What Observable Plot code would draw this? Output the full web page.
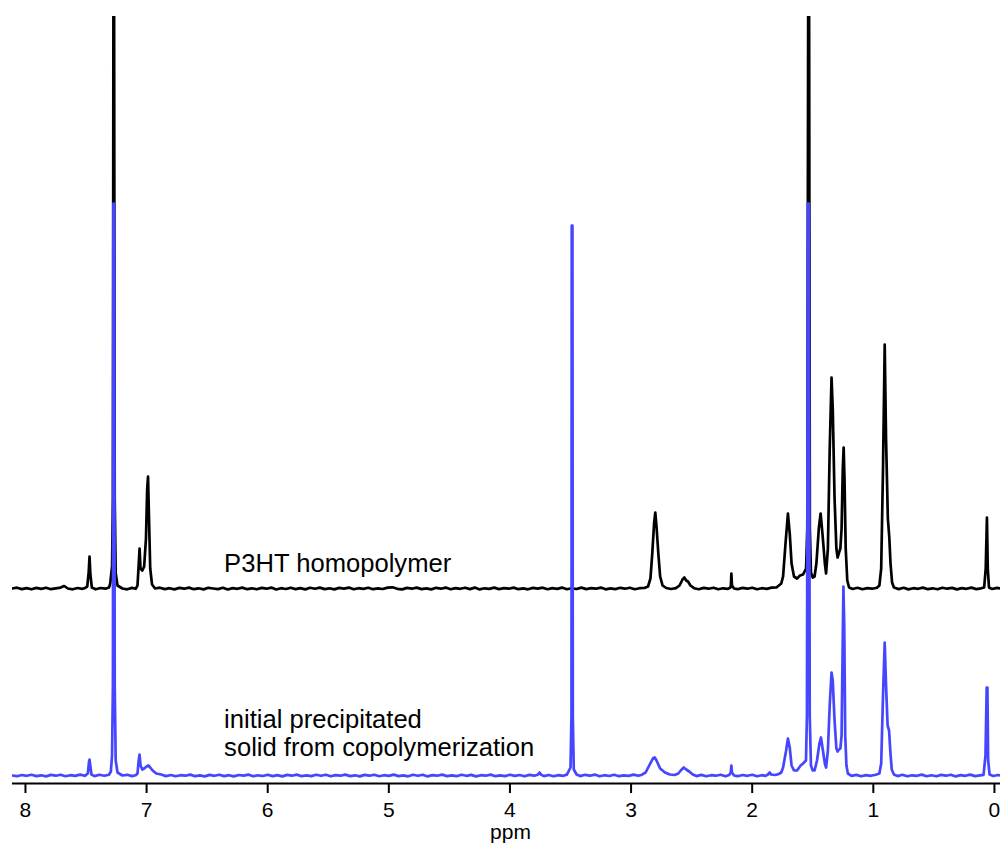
<!DOCTYPE html>
<html><head><meta charset="utf-8">
<script src="https://cdn.jsdelivr.net/npm/d3@7"></script>
<script src="https://cdn.jsdelivr.net/npm/@observablehq/plot@0.6"></script>
<style>body{margin:0;background:#fff}</style>
</head><body><div id="chart"></div>
<script>
// x ticks (ppm)
const xTicks = [8, 7, 6, 5, 4, 3, 2, 1, 0];
// labels
const seriesLabels = ["P3HT homopolymer", "initial precipitated", "solid from copolymerization"];
// baselines (intensity offsets, arbitrary units)
const BLACK_BASE = 195;
const BLUE_BASE = 8;

// P3HT homopolymer trace: [ppm, intensity above its baseline]
const blackTrace = [
[8.11,0],[8.07,0.8],[8.03,-0.6],[7.99,0.4],[7.95,-0.8],[7.91,0.6],[7.87,-0.4],[7.83,0.8],[7.79,-0.7],[7.75,0.2],[7.71,0.9],[7.68,2.5],[7.65,0],[7.61,-0.8],[7.57,0.5],[7.53,-0.3],[7.51,0.4],
[7.49,2],[7.478,16],[7.471,32],[7.464,14],[7.452,1],
[7.42,-0.8],[7.38,0.5],[7.34,-0.2],[7.31,1],[7.30,5],[7.285,22],[7.278,90],[7.274,572],[7.268,572],[7.263,90],[7.255,15],[7.24,3],[7.20,0],[7.16,-0.8],[7.12,0.6],[7.09,-0.3],[7.075,3],
[7.066,22],[7.058,40],[7.050,20],[7.035,18],[7.02,22],[7.005,50],[6.995,100],[6.988,112],[6.980,70],[6.970,20],[6.955,4],[6.93,0],
[6.89,0.8],[6.85,-0.6],[6.81,0.3],[6.77,-0.9],[6.73,0.6],[6.69,-0.2],[6.65,0.9],[6.61,-0.7],[6.57,0.2],[6.53,-0.9],[6.49,0.7],[6.45,0],[6.41,-0.6],[6.37,0.8],[6.33,-1],[6.29,0.4],[6.25,-0.3],[6.21,0.9],[6.17,-0.7],[6.13,0.2],[6.09,-0.8],[6.05,0.6],[6.01,-0.2],[5.97,0.9],[5.93,-1],[5.89,0.3],[5.85,-0.5],[5.81,0.8],[5.77,-0.6],[5.73,0.4],[5.69,-0.9],[5.65,0.7],[5.61,-0.3],[5.57,0.9],[5.53,-0.6],[5.49,0.2],[5.45,-0.9],[5.41,0.6],[5.37,-0.1],[5.33,0.9],[5.29,-0.8],[5.25,0.3],[5.21,-0.4],[5.17,0.8],[5.13,-0.7],[5.09,0.2],[5.05,-0.5],[5.01,0.9],[4.97,1.2],[4.93,-0.3],[4.89,-0.9],[4.85,0.6],[4.81,-0.2],[4.77,0.9],[4.73,-0.6],[4.69,0.1],[4.65,-0.9],[4.61,0.7],[4.57,-0.2],[4.53,0.9],[4.49,-0.8],[4.45,0.4],[4.41,-0.3],[4.37,0.8],[4.33,-0.6],[4.29,0.9],[4.25,-0.9],[4.21,0.2],[4.17,-0.4],[4.13,0.9],[4.09,-0.6],[4.05,0.3],[4.01,-0.2],[3.97,0.9],[3.93,-0.7],[3.89,0.1],[3.85,-0.8],[3.81,0.6],[3.77,-0.1],[3.73,0.8],[3.69,-0.7],[3.65,0.4],[3.61,-0.4],[3.57,0.9],[3.53,-0.8],[3.49,0.2],[3.45,-0.5],[3.41,0.9],[3.37,-0.6],[3.33,0.3],[3.29,-0.2],[3.25,0.9],[3.21,-0.8],[3.17,0.1],[3.13,-0.6],[3.09,0.7],[3.05,-0.2],[3.01,0.8],[2.97,-0.7],[2.93,0.3],[2.89,0.5],
[2.86,2],[2.84,10],[2.825,35],[2.81,65],[2.80,76],[2.79,62],[2.775,35],[2.76,12],[2.74,3],[2.71,0.5],[2.67,-0.5],[2.63,0.3],[2.60,3],[2.575,9],[2.56,11],[2.545,8],[2.53,7],[2.51,3],[2.48,0.3],[2.44,-0.7],[2.40,0.6],[2.36,-0.2],[2.32,0.8],[2.28,-0.8],[2.24,0.2],[2.20,-0.4],[2.18,1],[2.176,3],[2.172,15],[2.167,3],[2.15,0],[2.12,-0.7],[2.08,0.6],[2.04,-0.2],[2.00,0.8],[1.96,-0.8],[1.92,0.3],[1.88,-0.4],[1.84,0.9],[1.80,1],[1.76,5],
[1.745,12],[1.725,45],[1.705,75],[1.69,55],[1.675,25],[1.655,12],[1.63,10],[1.605,13],[1.58,14],[1.555,20],[1.545,60],[1.538,572],[1.53,572],[1.524,60],[1.515,16],[1.50,11],[1.485,12],[1.47,25],[1.45,60],[1.435,75],[1.42,55],[1.40,25],[1.39,15],[1.375,40],[1.36,140],[1.345,211],[1.335,180],[1.32,90],[1.305,40],[1.295,31],[1.283,36],[1.272,40],[1.262,60],[1.252,120],[1.245,141],[1.238,110],[1.228,40],[1.215,8],[1.20,1],
[1.17,-0.5],[1.13,0.7],[1.09,-0.8],[1.05,0.4],[1.01,-0.2],[0.97,0.8],[0.95,3],[0.935,20],[0.92,120],[0.906,244],[0.895,150],[0.88,70],[0.868,51],[0.858,25],[0.845,6],[0.83,1],
[0.79,-0.6],[0.75,0.7],[0.71,-0.9],[0.67,0.3],[0.63,-0.3],[0.59,0.9],[0.55,-0.7],[0.51,0.2],[0.47,-0.8],[0.43,0.8],[0.39,-0.2],[0.35,0.6],[0.31,-0.9],[0.27,0.4],[0.23,-0.3],[0.19,0.9],[0.15,-0.6],[0.11,0.2],[0.085,1],[0.072,20],[0.062,71],[0.055,20],[0.045,1],[0.02,-0.5],[-0.02,0.6],[-0.06,0]
];

// initial precipitated solid trace: [ppm, intensity above its baseline]
const blueTrace = [
[8.11,0],[8.07,-0.7],[8.03,0.5],[7.99,-0.3],[7.95,0.8],[7.91,-0.6],[7.87,0.2],[7.83,-0.9],[7.79,0.6],[7.75,-0.2],[7.71,0.8],[7.67,-0.7],[7.63,0.3],[7.59,-0.4],[7.55,0.9],[7.51,-0.3],
[7.485,2],[7.475,14],[7.471,16],[7.465,10],[7.455,1],[7.43,-0.6],[7.39,0.7],[7.35,-0.3],[7.31,0.8],
[7.295,4],[7.285,20],[7.278,90],[7.274,572],[7.268,572],[7.263,90],[7.255,15],[7.24,3],[7.20,0],[7.16,0.7],[7.12,-0.6],[7.09,0.3],
[7.075,2],[7.066,14],[7.058,21],[7.050,10],[7.035,6],[7.02,7],[7.00,9],[6.985,10],[6.97,8],[6.95,5],[6.92,2],[6.88,1],[6.84,-0.6],
[6.80,0.5],[6.76,-0.8],[6.72,0.3],[6.68,-0.2],[6.64,0.9],[6.60,-0.7],[6.56,0.1],[6.52,-0.9],[6.48,0.6],[6.44,-0.3],[6.40,0.8],[6.36,-0.6],[6.32,0.3],[6.28,-0.9],[6.24,0.5],[6.20,-0.1],[6.16,0.9],[6.12,-0.8],[6.08,0.2],[6.04,-0.5],[6.00,0.8],[5.96,-0.6],[5.92,0.4],[5.88,-0.9],[5.84,0.6],[5.80,-0.2],[5.76,0.9],[5.72,-0.7],[5.68,0.1],[5.64,-0.6],[5.60,0.7],[5.56,-0.3],[5.52,0.8],[5.48,-0.8],[5.44,0.4],[5.40,-0.2],[5.36,0.9],[5.32,-0.6],[5.28,0.2],[5.24,-0.9],[5.20,0.6],[5.16,-0.2],[5.12,0.8],[5.08,-0.7],[5.04,0.3],[5.00,-0.4],[4.96,0.9],[4.92,-0.6],[4.88,0.1],[4.84,-0.8],[4.80,0.7],[4.76,-0.3],[4.72,0.8],[4.68,-0.9],[4.64,0.4],[4.60,-0.2],[4.56,0.9],[4.52,-0.6],[4.48,0.2],[4.44,-0.7],[4.40,0.8],[4.36,-0.3],[4.32,0.6],[4.28,-0.9],[4.24,0.3],[4.20,-0.2],[4.16,0.9],[4.12,-0.7],[4.08,0.1],[4.04,-0.6],[4.00,0.8],[3.96,-0.4],[3.92,0.5],[3.88,-0.8],[3.84,0.6],[3.80,-0.2],
[3.77,0.8],[3.755,3],[3.745,1],[3.72,-0.6],[3.68,0.5],[3.64,-0.8],[3.60,0.4],[3.56,-0.3],[3.53,0.9],
[3.500,8],[3.492,60],[3.490,550],[3.484,550],[3.481,60],[3.473,6],[3.45,1],
[3.42,-0.6],[3.38,0.7],[3.34,-0.2],[3.30,0.9],[3.26,-0.8],[3.22,0.3],[3.18,-0.5],[3.14,0.8],[3.10,-0.7],[3.06,0.2],[3.02,-0.4],[2.98,0.9],[2.94,-0.3],[2.91,0.8],
[2.88,3],[2.85,10],[2.82,17],[2.805,18],[2.79,15],[2.76,7],[2.72,3],[2.68,1],[2.64,0.5],[2.61,2],[2.59,5],[2.565,8],[2.545,6],[2.52,4],[2.49,1],
[2.46,-0.6],[2.42,0.6],[2.38,-0.8],[2.34,0.3],[2.30,-0.2],[2.26,0.8],[2.22,-0.7],[2.19,0.6],[2.177,3],[2.172,10],[2.167,3],[2.15,0],[2.12,-0.7],[2.08,0.5],[2.04,-0.3],[2.00,0.8],[1.96,-0.7],[1.92,0.3],[1.89,-0.4],[1.87,1],[1.855,3],[1.845,1],[1.81,0.5],
[1.78,1.5],[1.76,3],[1.745,8],[1.72,25],[1.705,37],[1.69,28],[1.675,10],[1.655,5],[1.63,5],[1.60,10],[1.58,12],[1.556,15],[1.548,60],[1.540,572],[1.532,572],[1.525,60],[1.515,10],[1.50,5],[1.485,5],
[1.465,15],[1.445,32],[1.432,38],[1.42,28],[1.40,12],[1.39,8],[1.375,25],[1.36,70],[1.345,103],[1.335,95],[1.32,55],[1.305,27],[1.295,24],[1.283,26],[1.272,27],[1.262,40],[1.255,110],[1.247,189],[1.240,150],[1.232,40],[1.222,10],[1.21,2],
[1.18,-0.4],[1.14,0.6],[1.10,-0.8],[1.06,0.4],[1.02,-0.3],[0.98,0.8],[0.95,2],[0.935,12],[0.92,80],[0.906,133],[0.895,90],[0.882,50],[0.870,45],[0.86,25],[0.848,6],[0.83,1],
[0.80,-0.6],[0.76,0.7],[0.72,-0.8],[0.68,0.2],[0.64,-0.3],[0.60,0.9],[0.56,-0.7],[0.52,0.3],[0.48,-0.8],[0.44,0.6],[0.40,-0.2],[0.36,0.8],[0.32,-0.9],[0.28,0.4],[0.24,-0.3],[0.20,0.9],[0.16,-0.6],[0.12,0.2],[0.09,0.6],[0.074,20],[0.064,88],[0.058,88],[0.052,15],[0.04,1],[0.01,-0.5],[-0.03,0.5],[-0.06,0]
];

const FONT = "'Liberation Sans', Arial, Helvetica, sans-serif";
const BLUE = "#4646ff";

const chart = Plot.plot({
  width: 1000,
  height: 846,
  marginLeft: 12,
  marginRight: 0,
  marginTop: 16,
  marginBottom: 63,
  style: {fontFamily: FONT, fontSize: "21px", background: "#fff", color: "#000"},
  x: {domain: [8.107, -0.05]},
  y: {domain: [0, 767], axis: null},
  marks: [
    Plot.line(blackTrace, {x: d => d[0], y: d => d[1] + BLACK_BASE, stroke: "#000", strokeWidth: 2.7, clip: true}),
    Plot.line(blueTrace, {x: d => d[0], y: d => d[1] + BLUE_BASE, stroke: BLUE, strokeWidth: 2.7, clip: true}),
    Plot.ruleY([0], {stroke: "#000", strokeWidth: 2}),
    Plot.axisX({ticks: xTicks, tickSize: 10, tickPadding: 9, strokeWidth: 2, tickFormat: d => String(d), label: null, fontSize: 21}),
    Plot.text(["ppm"], {frameAnchor: "bottom", dy: 55, dx: 4, fontSize: 21, fill: "#000"}),
    Plot.text([seriesLabels[0]], {x: 6.36, y: BLACK_BASE + 25, textAnchor: "start", fontSize: 25.6, fill: "#000"}),
    Plot.text([seriesLabels[1]], {x: 6.36, y: BLUE_BASE + 56, textAnchor: "start", fontSize: 25.6, fill: "#000"}),
    Plot.text([seriesLabels[2]], {x: 6.36, y: BLUE_BASE + 28, textAnchor: "start", fontSize: 25.6, fill: "#000"})
  ]
});
document.getElementById("chart").appendChild(chart);
</script>
</body></html>
